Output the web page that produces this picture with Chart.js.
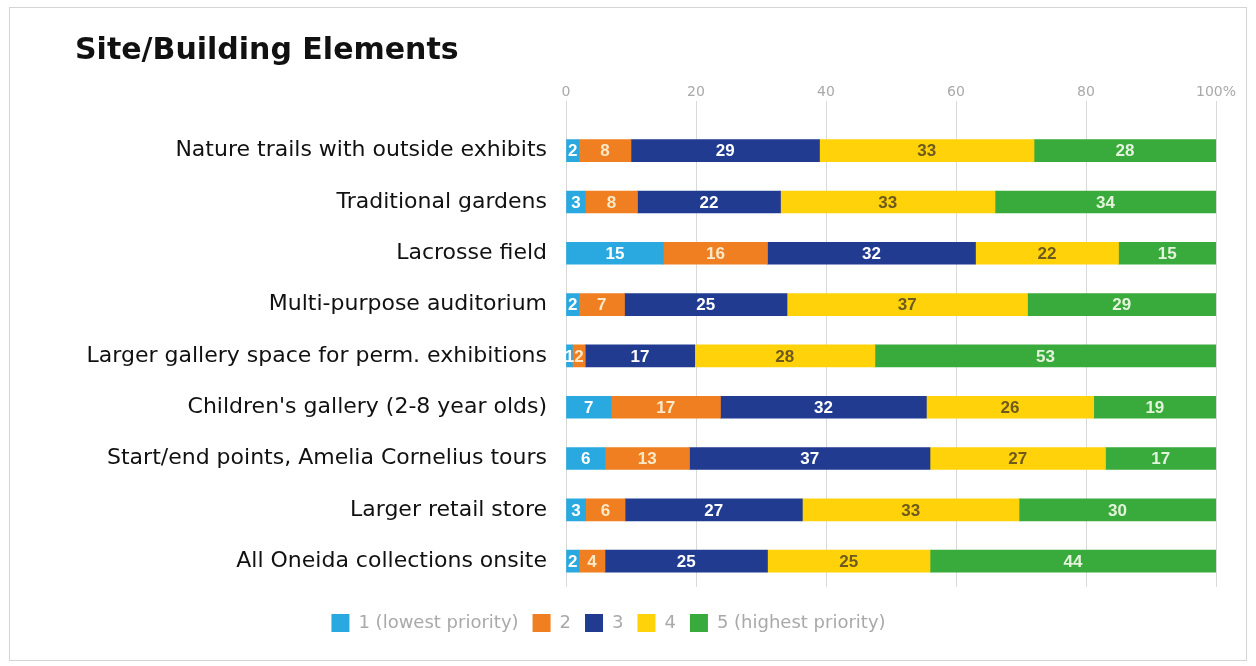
<!DOCTYPE html>
<html>
<head>
<meta charset="utf-8">
<script src="https://cdn.jsdelivr.net/npm/chart.js@4"></script>
<style>
  body { margin: 0; background: #fff; }
  #frame { position: absolute; left: 9px; top: 7px; width: 1236px; height: 652px; border: 1px solid #d4d4d4; }
  #wrap { position: absolute; left: 0; top: 0; width: 1256px; height: 666px; }
</style>
</head>
<body>
<div id="frame"></div>
<div id="wrap"><canvas id="chart" width="1256" height="666"></canvas></div>
<script>
const categories = [
  "Nature trails with outside exhibits",
  "Traditional gardens",
  "Lacrosse field",
  "Multi-purpose auditorium",
  "Larger gallery space for perm. exhibitions",
  "Children's gallery (2-8 year olds)",
  "Start/end points, Amelia Cornelius tours",
  "Larger retail store",
  "All Oneida collections onsite"
];
const seriesNames = ["1 (lowest priority)", "2", "3", "4", "5 (highest priority)"];
const p1 = [2, 3, 15, 2, 1, 7, 6, 3, 2];
const p2 = [8, 8, 16, 7, 2, 17, 13, 6, 4];
const p3 = [29, 22, 32, 25, 17, 32, 37, 27, 25];
const p4 = [33, 33, 22, 37, 28, 26, 27, 33, 25];
const p5 = [28, 34, 15, 29, 53, 19, 17, 30, 44];
const xTicks = [0, 20, 40, 60, 80, 100];

const colors = ["#29a9df", "#f07f21", "#213b91", "#ffd20a", "#39aa3c"];
const labelColors = ["#ffffff", "#fbe9c8", "#ffffff", "#6d5a1c", "#e4f3dc"];
const sans = "'DejaVu Sans', Arial, sans-serif";

const raw = [p1, p2, p3, p4, p5];
const totals = categories.map((c, i) => raw.reduce((s, a) => s + a[i], 0));

const ctx = document.getElementById("chart").getContext("2d");

// writes the raw value in the middle of each bar piece
const barLabels = {
  id: "barLabels",
  afterDatasetsDraw(chart) {
    const c = chart.ctx;
    c.save();
    c.font = "bold 17px 'Liberation Sans', Arial, sans-serif";
    c.textAlign = "center";
    c.textBaseline = "middle";
    chart.data.datasets.forEach((ds, di) => {
      const meta = chart.getDatasetMeta(di);
      c.fillStyle = labelColors[di];
      meta.data.forEach((bar, i) => {
        const p = bar.getProps(["x", "y", "base"], true);
        c.fillText(String(raw[di][i]), (p.x + p.base) / 2, p.y + 1);
      });
    });
    c.restore();
  }
};

// legend sits a bit left of the canvas centre in the original
const legendShift = {
  id: "legendShift",
  afterLayout(chart) {
    chart.legend.left -= 37;
    chart.legend.right -= 37;
  }
};

let chart = new Chart(ctx, {
  type: "bar",
  data: {
    labels: categories,
    datasets: seriesNames.map((name, k) => ({
      label: name,
      data: raw[k].map((v, i) => v / totals[i] * 100),
      backgroundColor: colors[k],
      barThickness: 22
    }))
  },
  options: {
    indexAxis: "y",
    responsive: false,
    animation: false,
    layout: { padding: { left: 75, right: 40, top: 0, bottom: 24 } },
    scales: {
      x: {
        position: "top",
        stacked: true,
        min: 0,
        max: 100,
        afterBuildTicks: s => { s.ticks = xTicks.map(v => ({ value: v })); },
        afterFit: s => { s.height = 56; },
        border: { display: false },
        grid: { color: "#d9d9d9", tickColor: "#d9d9d9", tickLength: 24 },
        ticks: {
          padding: 0,
          color: "#a9a9a9",
          font: { size: 14, family: sans },
          callback: v => v === 100 ? "100%" : v
        }
      },
      y: {
        stacked: true,
        afterFit: s => { s.width = 491; },
        border: { display: false },
        grid: { display: false, drawTicks: false },
        ticks: {
          padding: 19,
          color: "#111",
          font: { size: 22, family: sans }
        }
      }
    },
    plugins: {
      title: {
        display: true,
        text: "Site/Building Elements",
        align: "start",
        color: "#111",
        font: { size: 30, weight: "bold", family: sans },
        padding: { top: 33, bottom: 0 }
      },
      legend: {
        position: "bottom",
        title: { display: true, text: "", font: { size: 1 }, padding: { top: 12, bottom: 0 } },
        labels: {
          boxWidth: 18,
          boxHeight: 18,
          padding: 14,
          color: "#a9a9a9",
          font: { size: 18, family: sans }
        }
      },
      tooltip: { enabled: false }
    }
  },
  plugins: [barLabels, legendShift]
});
</script>
</body>
</html>
